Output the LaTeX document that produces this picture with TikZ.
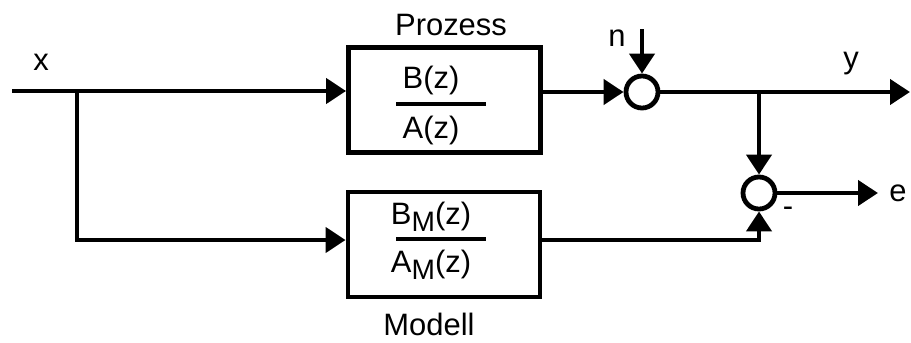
\documentclass[tikz,border=0pt]{standalone}
\usepackage{fontspec}
\setmainfont{Liberation Sans}
\usetikzlibrary{arrows.meta}

\newcommand{\subM}{\raisebox{-0.45ex}{\fontsize{20}{20}\selectfont M}}

\begin{document}
\begin{tikzpicture}[x=0.025cm,y=-0.025cm]
	\tikzstyle{every node}+=[inner sep=0pt,font=\fontsize{22}{26}\selectfont]
	\tikzstyle{block}=[draw,line width=3.4pt,minimum width=4.8cm,minimum height=2.62cm]
	\tikzstyle{sum}=[draw,circle,line width=3.4pt,minimum size=0.8cm]
	\tikzstyle{wire}=[line width=3.4pt,-{Triangle[length=0.5cm,width=0.62cm]}]
	\tikzstyle{bar}=[line width=2.2pt]
	\useasboundingbox (0,0) rectangle (911,342);
	\node [block] (prozess) at (444.5,100) {};
	\node [block] (modell) at (444,244.5) {};
	\node (prozesslabel) at (451,25) {Prozess};
	\node (modelllabel) at (429,324) {Modell};
	\node (bz) at (431,80) {B(z)};
	\node (az) at (431,130) {A(z)};
	\draw [bar] (396,104) -- (486,104);
	\node (bmz) at (431,217) {B\subM(z)};
	\node (amz) at (431,265) {A\subM(z)};
	\draw [bar] (396,239) -- (486,239);
	\node [sum] (sumn) at (642,92) {};
	\node [sum] (sume) at (759,193) {};
	\coordinate (xin) at (12,91);
	\coordinate (xsplit) at (77,91);
	\coordinate (nin) at (642,29);
	\coordinate (yout) at (910,92);
	\coordinate (ysplit) at (759,92);
	\coordinate (eout) at (878,193);
	\coordinate (mcorner) at (759,240);
	\node (xlabel) at (41,62) {x};
	\node (nlabel) at (617,38) {n};
	\node (ylabel) at (851,64) {y};
	\node (elabel) at (898,193) {e};
	\node (minus) at (788,212) {-};
	\draw [wire] (xin) -- (prozess.west |- xin);
	\draw [wire] (xsplit) |- (modell.west |- mcorner);
	\draw [wire] (prozess.east |- sumn) -- (sumn);
	\draw [wire] (nin) -- (sumn);
	\draw [wire] (sumn) -- (yout);
	\draw [wire] (ysplit) -- (sume);
	\draw [wire] (sume) -- (eout);
	\draw [wire] (modell.east |- mcorner) -- (mcorner) -- (sume);
\end{tikzpicture}
\end{document}
